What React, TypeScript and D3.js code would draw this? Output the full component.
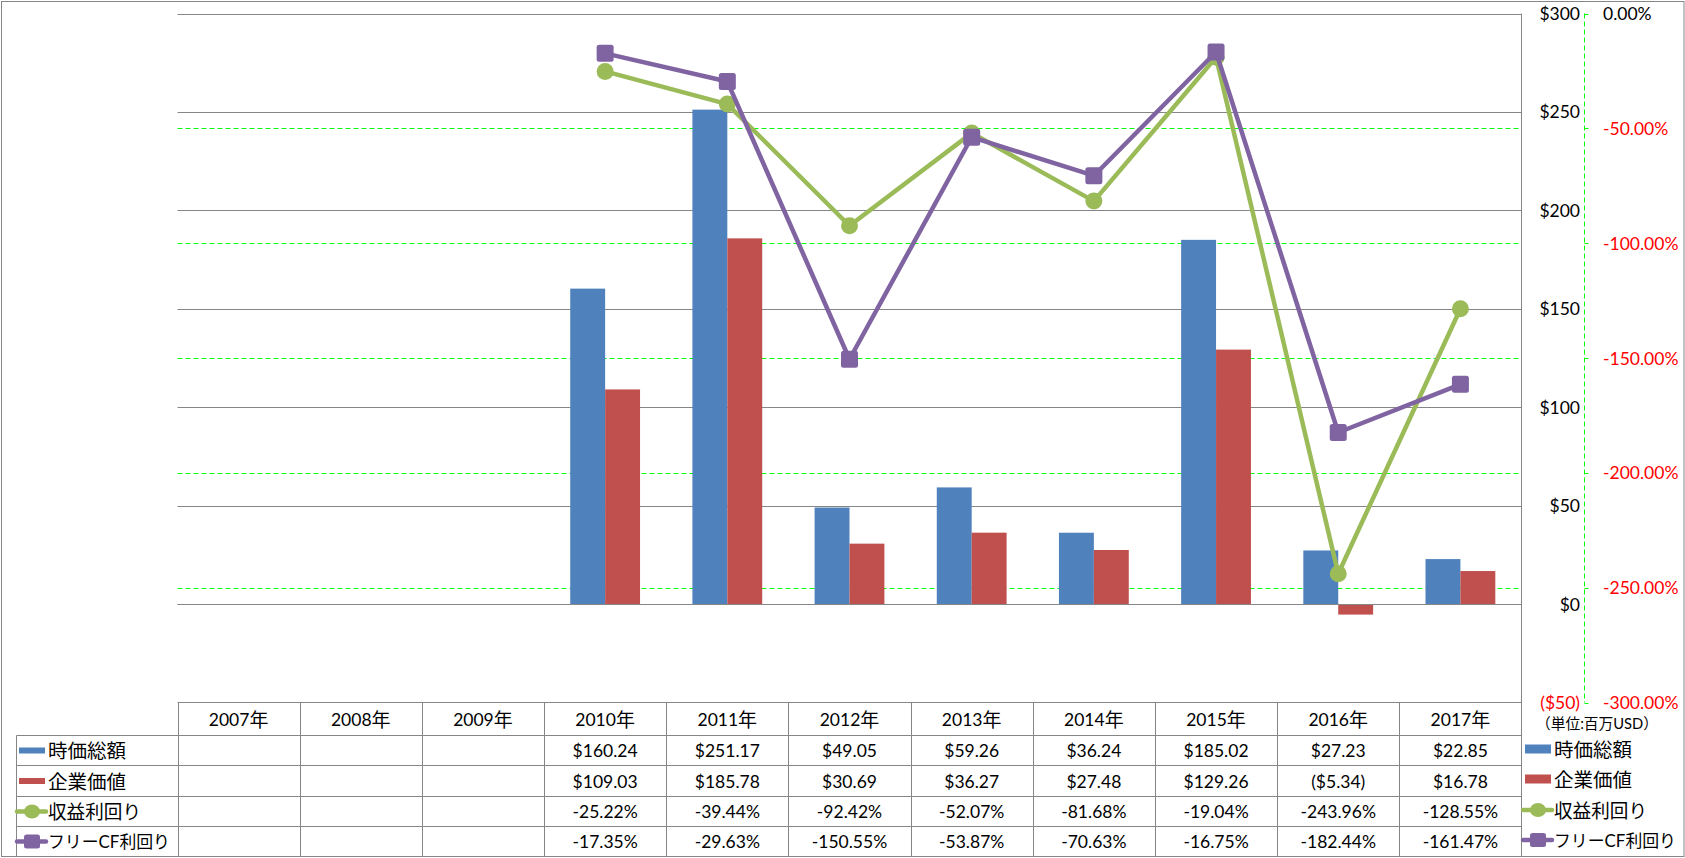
import React, { useEffect } from "react";
import * as d3 from "d3";

const years = ["2007年", "2008年", "2009年", "2010年", "2011年", "2012年", "2013年", "2014年", "2015年", "2016年", "2017年"];
const marketCap: (number | null)[] = [null, null, null, 160.24, 251.17, 49.05, 59.26, 36.24, 185.02, 27.23, 22.85];
const enterpriseValue: (number | null)[] = [null, null, null, 109.03, 185.78, 30.69, 36.27, 27.48, 129.26, -5.34, 16.78];
const earningsYield: (number | null)[] = [null, null, null, -25.22, -39.44, -92.42, -52.07, -81.68, -19.04, -243.96, -128.55];
const fcfYield: (number | null)[] = [null, null, null, -17.35, -29.63, -150.55, -53.87, -70.63, -16.75, -182.44, -161.47];
const seriesNames = ["時価総額", "企業価値", "収益利回り", "フリーCF利回り"];
const leftTicks = [-50, 0, 50, 100, 150, 200, 250, 300];
const rightTicks = [-300, -250, -200, -150, -100, -50, 0];
const unitLabel = "（単位:百万USD）";

const W = 1685;
const H = 858;
const plotL = 177.5;
const plotR = 1521.5;
const plotT = 13.5;
const plotB = 702.5;
const tableRows = [702.5, 735.5, 765.5, 796.5, 826.5, 856.5];
const tableLegendL = 16.5;
const nameWidths = [78, 78, 93, 122];

const BLUE = "#4F81BD";
const RED = "#C0504D";
const GREEN = "#9BBB59";
const PURPLE = "#8064A2";
const GRID = "#868686";
const LIME = "#00FF00";
const FONT = "Lato, 'Noto Sans CJK JP', sans-serif";
const FS = 17.5;

function fmtMoney(v: number): string {
  return v < 0 ? `($${Math.abs(v).toFixed(2)})` : `$${v.toFixed(2)}`;
}
function fmtPct(v: number): string {
  return `${v.toFixed(2)}%`;
}

function YearText({ x, y, label }: { x: number; y: number; label: string }) {
  const num = label.slice(0, -1);
  const suf = label.slice(-1);
  return (
    <text x={x} y={y} textAnchor="middle" dominantBaseline="central" fontFamily={FONT} fontSize={FS} fill="#000">
      {num}
      <tspan fontSize={19}>{suf}</tspan>
    </text>
  );
}

function LegendKey({ kind, x, y, rectH }: { kind: number; x: number; y: number; rectH: number }) {
  if (kind === 0 || kind === 1) {
    return <rect x={x + 3} y={y - rectH / 2} width={26} height={rectH} fill={kind === 0 ? BLUE : RED} />;
  }
  const color = kind === 2 ? GREEN : PURPLE;
  const cx = x + 16;
  return (
    <g>
      <line x1={x + 1} x2={x + 30} y1={y} y2={y} stroke={color} strokeWidth={4.5} strokeLinecap="round" />
      {kind === 2 ? (
        <ellipse cx={cx} cy={y} rx={8} ry={7} fill={color} />
      ) : (
        <rect x={cx - 8} y={y - 7} width={16} height={14} rx={2.5} fill={color} />
      )}
    </g>
  );
}

export default function App() {
  useEffect(() => {
    document.body.style.margin = "0";
  }, []);

  const x = d3.scaleBand<string>().domain(years).range([plotL, plotR]).padding(0);
  const x1 = d3
    .scaleBand<string>()
    .domain(["a", "b"])
    .range([0, x.bandwidth()])
    .paddingInner(0)
    .paddingOuter(0.75);
  const yL = d3.scaleLinear().domain([-50, 300]).range([plotB, plotT]);
  const yR = d3.scaleLinear().domain([-300, 0]).range([plotB, plotT]);
  const cx = (y: string) => (x(y) as number) + x.bandwidth() / 2;

  const lineGen = d3
    .line<{ year: string; v: number | null }>()
    .defined((d) => d.v !== null)
    .x((d) => cx(d.year))
    .y((d) => yR(d.v as number));

  const eyData = years.map((year, i) => ({ year, v: earningsYield[i] }));
  const fcfData = years.map((year, i) => ({ year, v: fcfYield[i] }));

  const axisX = 1584.5;
  const rowValues = [marketCap, enterpriseValue, earningsYield, fcfYield];

  return (
    <svg width={W} height={H} style={{ display: "block" }} xmlns="http://www.w3.org/2000/svg">
      <rect x={0} y={0} width={W} height={H} fill="#fff" />
      <rect x={1.5} y={1.5} width={W - 2.5} height={H - 3} fill="none" stroke={GRID} strokeWidth={1} />

      {/* primary gridlines */}
      {leftTicks
        .filter((t) => t >= 0)
        .map((t) => (
          <line key={"g" + t} x1={plotL} x2={plotR} y1={Math.round(yL(t)) + 0.5} y2={Math.round(yL(t)) + 0.5} stroke={GRID} strokeWidth={1} />
        ))}
      {/* secondary gridlines */}
      {rightTicks
        .filter((t) => t > -300 && t < 0)
        .map((t) => (
          <line
            key={"s" + t}
            x1={plotL}
            x2={plotR}
            y1={Math.round(yR(t)) + 0.5}
            y2={Math.round(yR(t)) + 0.5}
            stroke={LIME}
            strokeWidth={1}
            strokeDasharray="5,3"
          />
        ))}

      {/* bars */}
      {years.map((year, i) => (
        <g key={"b" + year}>
          {marketCap[i] !== null && (
            <rect
              x={(x(year) as number) + (x1("a") as number)}
              width={x1.bandwidth()}
              y={Math.min(yL(marketCap[i] as number), yL(0))}
              height={Math.abs(yL(marketCap[i] as number) - yL(0))}
              fill={BLUE}
            />
          )}
          {enterpriseValue[i] !== null && (
            <rect
              x={(x(year) as number) + (x1("b") as number)}
              width={x1.bandwidth()}
              y={Math.min(yL(enterpriseValue[i] as number), yL(0))}
              height={Math.abs(yL(enterpriseValue[i] as number) - yL(0))}
              fill={RED}
            />
          )}
        </g>
      ))}
      {/* zero line */}
      <line x1={plotL} x2={plotR} y1={Math.round(yL(0)) + 0.5} y2={Math.round(yL(0)) + 0.5} stroke={GRID} strokeWidth={1} />

      {/* lines */}
      <path d={lineGen(eyData) || ""} fill="none" stroke={GREEN} strokeWidth={4.5} strokeLinejoin="round" />
      {eyData
        .filter((d) => d.v !== null)
        .map((d) => (
          <circle key={"ec" + d.year} cx={cx(d.year)} cy={yR(d.v as number)} r={8.5} fill={GREEN} />
        ))}
      <path d={lineGen(fcfData) || ""} fill="none" stroke={PURPLE} strokeWidth={4.5} strokeLinejoin="round" />
      {fcfData
        .filter((d) => d.v !== null)
        .map((d) => (
          <rect key={"fc" + d.year} x={cx(d.year) - 8.5} y={yR(d.v as number) - 8.5} width={17} height={17} rx={2.5} fill={PURPLE} />
        ))}

      {/* primary axis line (right side of plot) */}
      <line x1={plotR} x2={plotR} y1={plotT} y2={tableRows[5]} stroke={GRID} strokeWidth={1} />
      {leftTicks.map((t) => (
        <text
          key={"lt" + t}
          x={1580}
          y={yL(t)}
          textAnchor="end"
          dominantBaseline="central"
          fontFamily={FONT}
          fontSize={FS}
          fill={t < 0 ? "#FF0000" : "#000"}
        >
          {t < 0 ? `($${Math.abs(t)})` : `$${t}`}
        </text>
      ))}

      {/* secondary axis */}
      <line x1={axisX} x2={axisX} y1={plotT} y2={plotB} stroke={LIME} strokeWidth={1} strokeDasharray="5,3" />
      {rightTicks.map((t) => (
        <g key={"rt" + t}>
          <line x1={axisX} x2={axisX + 4} y1={Math.round(yR(t)) + 0.5} y2={Math.round(yR(t)) + 0.5} stroke={LIME} strokeWidth={1} />
          <text
            x={1603}
            y={yR(t)}
            textAnchor="start"
            dominantBaseline="central"
            fontFamily={FONT}
            fontSize={FS}
            fill={t < 0 ? "#FF0000" : "#000"}
          >
            {fmtPct(t)}
          </text>
        </g>
      ))}

      {/* data table */}
      <g stroke={GRID} strokeWidth={1}>
        <line x1={plotL} x2={plotR} y1={tableRows[0]} y2={tableRows[0]} />
        {tableRows.slice(1, 5).map((r) => (
          <line key={"tr" + r} x1={tableLegendL} x2={plotR} y1={r} y2={r} />
        ))}
        <line x1={tableLegendL} x2={tableLegendL} y1={tableRows[1]} y2={tableRows[5]} />
        {years.map((year) => (
          <line key={"tc" + year} x1={Math.round(x(year) as number) + 0.5} x2={Math.round(x(year) as number) + 0.5} y1={tableRows[0]} y2={tableRows[5]} />
        ))}
      </g>
      {years.map((year) => (
        <YearText key={"yt" + year} x={cx(year)} y={(tableRows[0] + tableRows[1]) / 2} label={year} />
      ))}
      {rowValues.map((vals, ri) => (
        <g key={"rv" + ri}>
          <LegendKey kind={ri} x={16} y={(tableRows[ri + 1] + tableRows[ri + 2]) / 2} rectH={6} />
          <text
            x={48}
            y={(tableRows[ri + 1] + tableRows[ri + 2]) / 2}
            dominantBaseline="central"
            fontFamily={FONT}
            fontSize={ri === 3 ? 17 : 19}
            fill="#000"
            textLength={nameWidths[ri]}
            lengthAdjust="spacingAndGlyphs"
          >
            {seriesNames[ri]}
          </text>
          {years.map((year, i) =>
            vals[i] === null ? null : (
              <text
                key={"v" + ri + year}
                x={cx(year)}
                y={(tableRows[ri + 1] + tableRows[ri + 2]) / 2}
                textAnchor="middle"
                dominantBaseline="central"
                fontFamily={FONT}
                fontSize={FS}
                fill="#000"
              >
                {ri < 2 ? fmtMoney(vals[i] as number) : fmtPct(vals[i] as number)}
              </text>
            )
          )}
        </g>
      ))}

      {/* right legend */}
      <text
        x={1536}
        y={723}
        dominantBaseline="central"
        fontFamily={FONT}
        fontSize={15}
        fill="#000"
        textLength={122}
        lengthAdjust="spacingAndGlyphs"
      >
        {unitLabel}
      </text>
      {seriesNames.map((name, i) => {
        const yy = [749, 779, 810, 840][i];
        return (
          <g key={"rl" + i}>
            <LegendKey kind={i} x={1522} y={yy} rectH={9} />
            <text
              x={1554}
              y={yy}
              dominantBaseline="central"
              fontFamily={FONT}
              fontSize={i === 3 ? 17 : 19}
              fill="#000"
              textLength={nameWidths[i]}
              lengthAdjust="spacingAndGlyphs"
            >
              {name}
            </text>
          </g>
        );
      })}
    </svg>
  );
}
